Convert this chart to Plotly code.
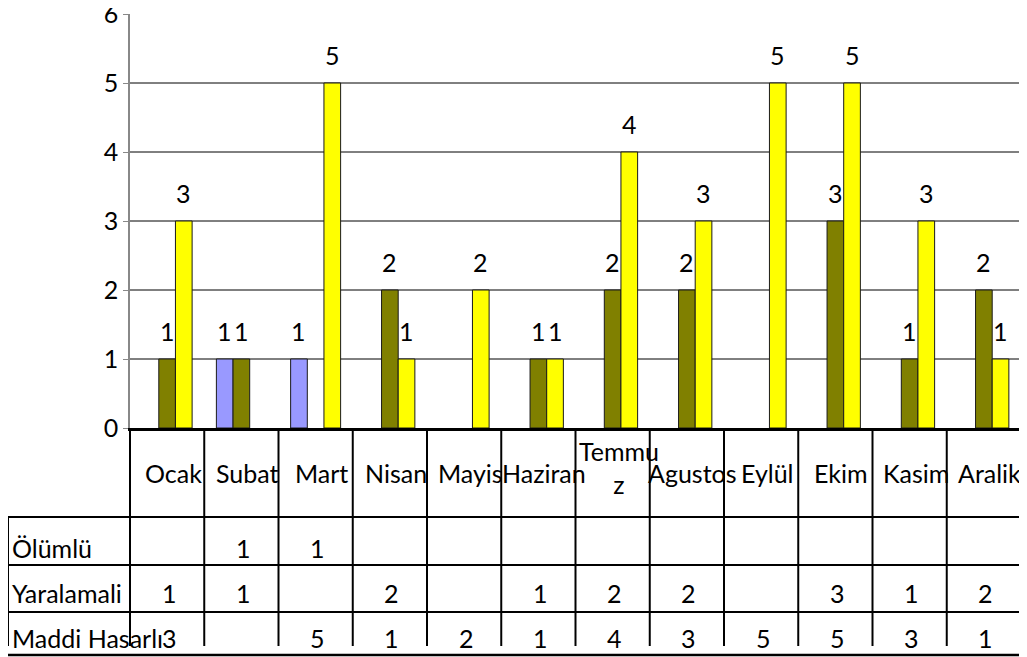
import plotly.graph_objects as go

months = ["Ocak", "Subat", "Mart", "Nisan", "Mayis", "Haziran", "Temmuz",
          "Agustos", "Eylül", "Ekim", "Kasim", "Aralik"]
month_labels = ["Ocak", "Subat", "Mart", "Nisan", "Mayis", "Haziran", "Temmu<br>z",
                "Agustos", "Eylül", "Ekim", "Kasim", "Aralik"]
series_names = ["Ölümlü", "Yaralamali", "Maddi Hasarlı"]
olumlu = [None, 1, 1, None, None, None, None, None, None, None, None, None]
yaralamali = [1, 1, None, 2, None, 1, 2, 2, None, 3, 1, 2]
maddi = [3, None, 5, 1, 2, 1, 4, 3, 5, 5, 3, 1]
y_ticks = [0, 1, 2, 3, 4, 5, 6]

series = [olumlu, yaralamali, maddi]
colors = ["#9999FF", "#808000", "#FFFF00"]

FONT = "Lato"
FS = 25
BODY = 8                       # browser default body margin
W, H = 1027 - BODY, 657 - BODY
ML, MR, MT, MB = 122, 6, 6, 229
BARGAP = 0.327

plot_w = W - ML - MR
plot_h = H - MT - MB
base_Y = 428                   # page pixel row of the category axis


def py(Y):
    """page pixel row -> paper y"""
    return (base_Y - Y) / plot_h


def pyshift(Y):
    """page pixel row -> pixel shift from y=0"""
    return base_Y - Y


def px(X):
    """page pixel column -> paper x"""
    return (X - BODY - ML) / plot_w


x_idx = list(range(len(months)))

fig = go.Figure()
for name, vals, col in zip(series_names, series, colors):
    fig.add_trace(go.Bar(
        x=x_idx, y=vals, name=name, marker_color=col,
        marker_line_color="#1a1a1a", marker_line_width=1,
        showlegend=False, hoverinfo="skip",
    ))

cat_w = plot_w / len(months)
bar_w = cat_w * (1 - BARGAP) / len(series)

annotations = []
shapes = []
tfont = dict(family=FONT, size=FS, color="#000000")

# data labels above bars
for si, vals in enumerate(series):
    off = (si - 1) * bar_w
    for i, v in enumerate(vals):
        if v is None:
            continue
        annotations.append(dict(
            x=i, y=v, xref="x", yref="y", text=str(v), showarrow=False,
            xshift=off, yshift=28, yanchor="middle", font=tfont,
        ))

# horizontal gridlines (1..5), behind the bars
for t in y_ticks[1:-1]:
    shapes.append(dict(type="line", xref="paper", yref="y", x0=0, x1=1, y0=t, y1=t,
                       line=dict(color="#000000", width=1), layer="below"))

# data table below the plot
LINE = dict(color="#000000", width=2)
n = len(months)
for i in range(n + 1):
    xp = i / n
    shapes.append(dict(type="line", xref="paper", yref="paper",
                       x0=xp, x1=xp, y0=0, y1=py(646), line=LINE))
lx = px(8)
shapes.append(dict(type="line", xref="paper", yref="paper",
                   x0=lx, x1=lx, y0=py(517), y1=py(646), line=LINE))
for Y in (517, 565, 612):
    shapes.append(dict(type="line", xref="paper", yref="paper",
                       x0=lx, x1=1, y0=py(Y), y1=py(Y), line=LINE))
shapes.append(dict(type="line", xref="paper", yref="paper",
                   x0=lx, x1=1, y0=py(655), y1=py(655), line=dict(color="#000000", width=2.5)))

# header category names
for i, lab in enumerate(month_labels):
    annotations.append(dict(
        x=i, y=0, xref="x", yref="y", text=lab, showarrow=False,
        xshift=6, yshift=pyshift(473) if "<br>" not in lab else pyshift(467),
        yanchor="middle", xanchor="center", font=tfont,
    ))

row_centers = [548, 593, 638]
for name, vals, Yc in zip(series_names, series, row_centers):
    annotations.append(dict(
        x=lx, y=0, xref="paper", yref="y", text=name, showarrow=False,
        xshift=2, yshift=pyshift(Yc), xanchor="left", yanchor="middle", font=tfont,
    ))
    for i, v in enumerate(vals):
        if v is None:
            continue
        annotations.append(dict(
            x=i, y=0, xref="x", yref="y", text=str(v), showarrow=False,
            xshift=2, yshift=pyshift(Yc), xanchor="center", yanchor="middle",
            font=tfont, bgcolor="rgba(0,0,0,0)",
        ))

fig.update_layout(
    width=W, height=H,
    margin=dict(l=ML, r=MR, t=MT, b=MB, pad=0, autoexpand=False),
    paper_bgcolor="#FFFFFF", plot_bgcolor="rgba(0,0,0,0)",
    barmode="group", bargap=BARGAP, bargroupgap=0,
    annotations=annotations, shapes=shapes,
    font=tfont,
)
fig.update_xaxes(range=[-0.5, n - 0.5], showticklabels=False, showgrid=False,
                 zeroline=False, showline=True, linecolor="#000000", linewidth=2.5,
                 ticks="", fixedrange=True)
fig.update_yaxes(range=[0, 6], tickvals=y_ticks, showgrid=False, zeroline=False,
                 showline=True, linecolor="#888888", linewidth=1.5,
                 ticks="outside", ticklen=5, tickcolor="#888888",
                 ticklabeloverflow="allow", automargin=False,
                 tickfont=tfont)

fig.write_html("out.html")
